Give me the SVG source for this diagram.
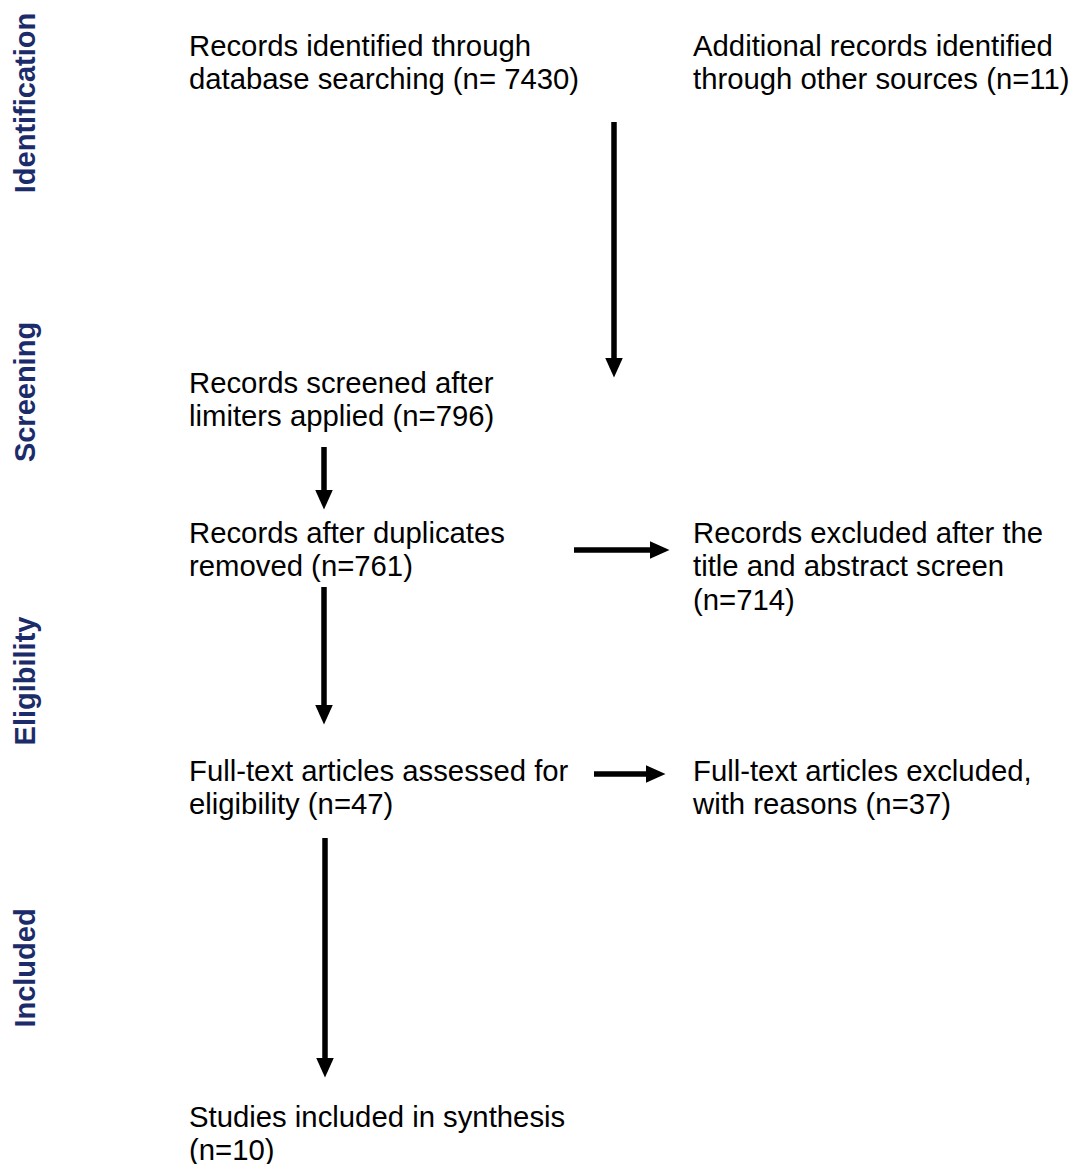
<svg xmlns="http://www.w3.org/2000/svg" width="1075" height="1164" viewBox="0 0 1075 1164">
<style>
.t{font-family:"Liberation Sans",Arial,sans-serif;font-size:29.3px;fill:#000}
.s{font-family:"Liberation Sans",Arial,sans-serif;font-size:29px;font-weight:bold;fill:#1C2C6A;text-anchor:middle}
.c{stroke:#000;stroke-width:5.5;fill:none;marker-end:url(#ah)}
</style>
<defs>
<marker id="ah" markerUnits="userSpaceOnUse" markerWidth="20" markerHeight="18" refX="0.5" refY="9" orient="auto">
<path d="M0,0 L20,9 L0,18 Z" fill="#000"/>
</marker>
</defs>
<rect width="1075" height="1164" fill="#fff"/>
<g id="stages">
<text class="s" transform="translate(35,103) rotate(-90)">Identification</text>
<text class="s" transform="translate(35,392) rotate(-90)">Screening</text>
<text class="s" transform="translate(35,681) rotate(-90)">Eligibility</text>
<text class="s" transform="translate(35,968) rotate(-90)">Included</text>
</g>
<g id="n-identified"><text class="t" x="189" y="56">Records identified through</text><text class="t" x="189" y="89">database searching (n= 7430)</text></g>
<g id="n-additional"><text class="t" x="693" y="56">Additional records identified</text><text class="t" x="693" y="89">through other sources (n=11)</text></g>
<g id="n-screened"><text class="t" x="189" y="393">Records screened after</text><text class="t" x="189" y="426">limiters applied (n=796)</text></g>
<g id="n-duplicates"><text class="t" x="189" y="543">Records after duplicates</text><text class="t" x="189" y="576">removed (n=761)</text></g>
<g id="n-excluded-title"><text class="t" x="693" y="543">Records excluded after the</text><text class="t" x="693" y="576">title and abstract screen</text><text class="t" x="693" y="610">(n=714)</text></g>
<g id="n-fulltext"><text class="t" x="189" y="781">Full-text articles assessed for</text><text class="t" x="189" y="814">eligibility (n=47)</text></g>
<g id="n-fulltext-excluded"><text class="t" x="693" y="781">Full-text articles excluded,</text><text class="t" x="693" y="814">with reasons (n=37)</text></g>
<g id="n-included"><text class="t" x="189" y="1127">Studies included in synthesis</text><text class="t" x="189" y="1160">(n=10)</text></g>
<g id="connectors">
<line class="c" x1="614" y1="122" x2="614" y2="358"/>
<line class="c" x1="324" y1="447" x2="324" y2="490"/>
<line class="c" x1="574" y1="550" x2="650" y2="550"/>
<line class="c" x1="324" y1="587" x2="324" y2="705"/>
<line class="c" x1="594" y1="774" x2="646" y2="774"/>
<line class="c" x1="325" y1="838" x2="325" y2="1058"/>
</g>
</svg>
